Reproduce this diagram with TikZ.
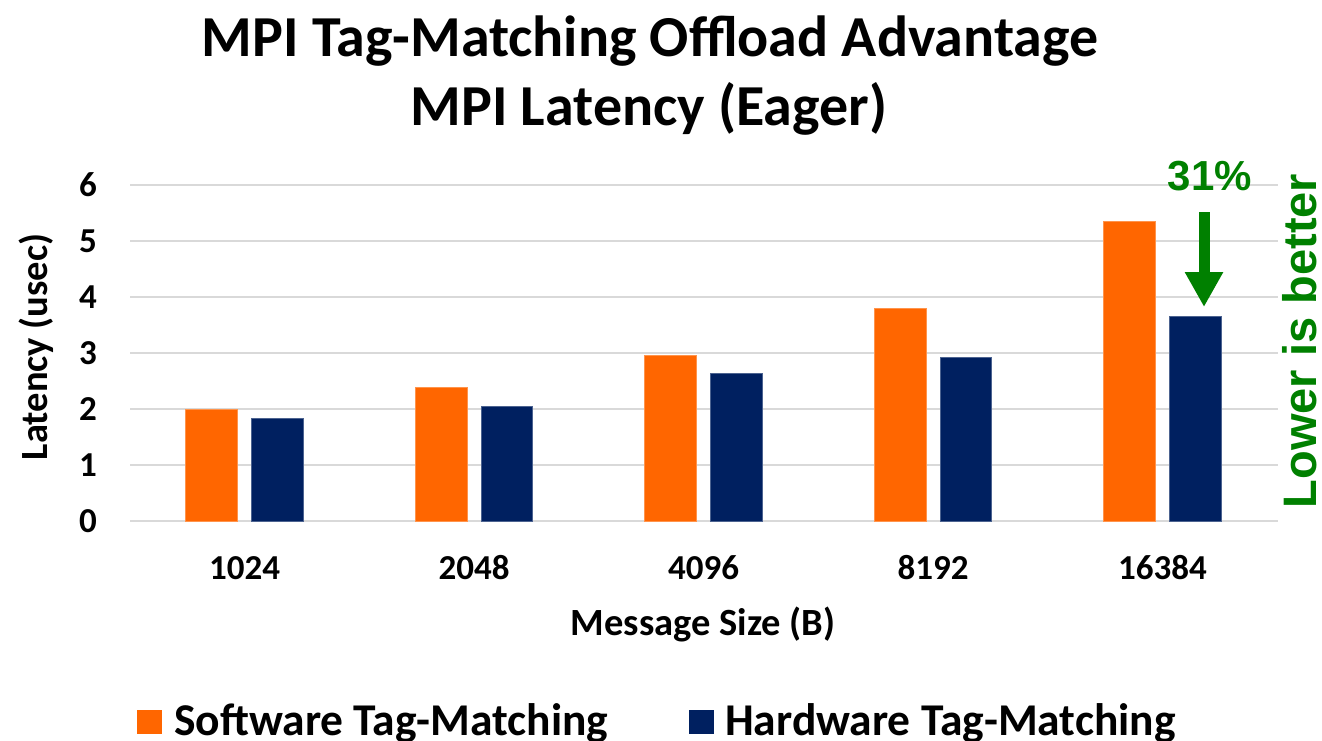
\documentclass[tikz,border=0pt]{standalone}
\usepackage{fontspec}
\setmainfont{Carlito}
\newfontfamily\arialfont{Liberation Sans}
\usetikzlibrary{arrows.meta}
\definecolor{swcol}{HTML}{FF6600}
\definecolor{hwcol}{HTML}{002060}
\definecolor{gridcol}{HTML}{D9D9D9}
\definecolor{notecol}{HTML}{008000}
\tikzset{
  gridline/.style={draw=gridcol, line width=2pt},
  swbar/.style={fill=swcol, draw=swcol!70!white, line width=0.8pt},
  hwbar/.style={fill=hwcol, draw=hwcol!70!white, line width=0.8pt},
  ticklbl/.style={font=\bfseries\fontsize{35}{35}\selectfont, inner sep=0pt},
  axttl/.style={font=\bfseries\fontsize{38.5}{38.5}\selectfont, inner sep=0pt},
  ttl/.style={font=\bfseries\fontsize{58}{58}\selectfont, inner sep=0pt, anchor=base},
  legtxt/.style={font=\bfseries\fontsize{45.5}{45.5}\selectfont, inner sep=0pt, anchor=base west},
  note/.style={text=notecol, inner sep=0pt},
}
\begin{document}
\begin{tikzpicture}[x=1pt, y=-1pt]
\useasboundingbox (0,0) rectangle (1322,740);
\fill[white] (0,0) rectangle (1322,740);

% title
\node[ttl] (title1) at (650,56) {MPI Tag-Matching Offload Advantage};
\node[ttl] (title2) at (649,125) {MPI Latency (Eager)};

% horizontal grid and y tick labels (56 px per usec, zero at y=521)
\foreach \k in {0,...,6}{
  \draw[gridline] (130,{521-56*\k}) -- (1277.5,{521-56*\k});
  \node[ticklbl, anchor=east] (ytick\k) at (97,{521-56*\k}) {\k};
}

% bars: category centre, software value, hardware value
\foreach \c/\sw/\hw/\lbl [count=\i] in {244.5/2.00/1.84/1024, 474/2.39/2.05/2048, 703.5/2.96/2.63/4096, 933/3.79/2.93/8192, 1162.5/5.35/3.65/16384}{
  \path[swbar] (\c-59,521) rectangle (\c-7,{521-56*\sw});
  \path[hwbar] (\c+7,521) rectangle (\c+58.5,{521-56*\hw});
  \node[ticklbl, anchor=base] (xtick\i) at (\c,579) {\lbl};
}

% axis titles
\node[axttl] (xtitle) at (703,624) {Message Size (B)};
\node[axttl, rotate=90] (ytitle) at (36,347) {Latency (usec)};

% annotation
\node[note, font=\arialfont\bfseries\fontsize{42}{42}\selectfont, anchor=base] (pct) at (1210,190) {31\%};
\coordinate (arrowtop) at (1204,212);
\coordinate (arrowtip) at (1204,307);
\draw[notecol, line width=11pt, -{Triangle[width=36pt, length=35pt]}] (arrowtop) -- (arrowtip);
\node[note, font=\arialfont\bfseries\fontsize{47}{47}\selectfont, rotate=90] (lower) at (1300,341) {Lower is better};

% legend
\fill[swcol] (137,710) rectangle (162,734);
\node[legtxt] (legsw) at (174,735) {Software Tag-Matching};
\fill[hwcol] (689,710) rectangle (714,734);
\node[legtxt] (leghw) at (725,735) {Hardware Tag-Matching};
\end{tikzpicture}
\end{document}
